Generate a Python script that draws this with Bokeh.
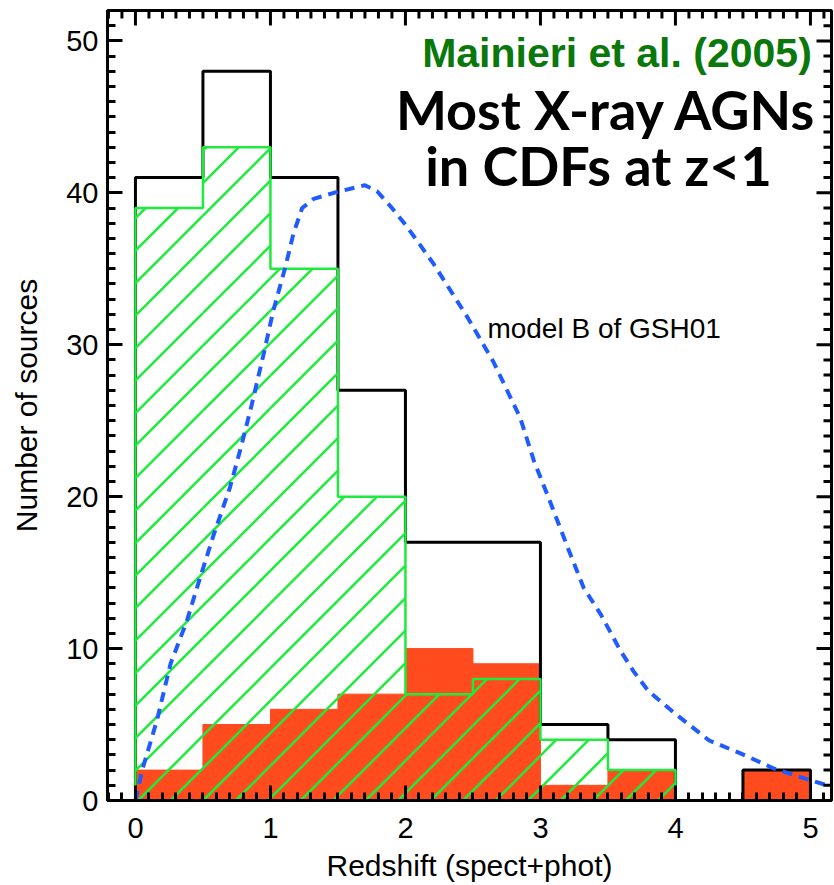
from bokeh.plotting import figure
from bokeh.models import LinearAxis, FixedTicker, Label, Range1d
from bokeh.embed import file_html
from bokeh.resources import INLINE
import numpy as np

# ---------------- data ----------------
bin_edges = [0.0, 0.5, 1.0, 1.5, 2.0, 2.5, 3.0, 3.5, 4.0, 4.5, 5.0]
total_counts = [41, 48, 41, 27, 17, 17, 5, 4, 0, 2]          # black outline
green_counts = [39, 43, 35, 20, 7, 8, 4, 2, 0, 0]           # green hatched
red_counts = [2, 5, 6, 7, 10, 9, 1, 2, 0, 2]                # red filled

model_z = [0.0, 0.05, 0.16, 0.26, 0.38, 0.48, 0.58, 0.70, 0.78, 0.86, 0.95,
           1.02, 1.11, 1.17, 1.235, 1.32, 1.47, 1.70, 1.79, 1.90, 2.0, 2.09,
           2.21, 2.46, 2.65, 2.85, 2.95, 3.07, 3.20, 3.32, 3.45, 3.59, 3.69,
           3.80, 4.0, 4.25, 4.49, 4.73, 5.01, 5.2]
model_n = [0.0, 2.0, 5.3, 9.0, 11.8, 14.7, 17.5, 20.6, 23.2, 26.0, 29.4,
           32.2, 35.1, 37.3, 39.0, 39.6, 40.0, 40.5, 40.1, 39.0, 37.9, 36.8,
           35.3, 31.8, 28.9, 25.2, 22.4, 19.7, 16.7, 14.0, 12.2, 9.9, 8.5,
           7.2, 5.7, 3.95, 3.07, 2.1, 1.3, 0.8]

x_start, x_end = -0.207, 5.156
y_start, y_end = 0.0, 52.0
x_major_ticks = [0, 1, 2, 3, 4, 5]
y_major_ticks = [0, 10, 20, 30, 40, 50]
x_minor_ticks = [float(round(v, 1)) for v in np.arange(-0.2, 5.2, 0.1)]
y_minor_ticks = list(range(0, 52))

x_label = "Redshift (spect+phot)"
y_label = "Number of sources"
ref_text = "Mainieri et al. (2005)"
title_line1 = "Most X-ray AGNs"
title_line2 = "in CDFs at z<1"
model_text = "model B of GSH01"

# ---------------- layout / style ----------------
W, H = 834, 885
BL, BR, BT, BB = 107, 3, 10, 85
FONT = "Liberation Sans"
RED = "#FF4B1E"
GREEN = "#1EEB3C"
BLUE = "#1F5BFF"
HATCH_PX = 32.5          # hatch spacing in screen pixels (45 degree lines)
HATCH_PHASE = 0.02       # where a hatch line meets y=0
MAJOR_LEN, MINOR_LEN = 15, 8

PX_X = (W - BL - BR) / (x_end - x_start)   # pixels per redshift unit
PX_Y = (H - BT - BB) / (y_end - y_start)   # pixels per source


# ---------------- helpers ----------------
def step_outline(edges, counts):
    xs, ys = [edges[0]], [0]
    for i, c in enumerate(counts):
        xs += [edges[i], edges[i + 1]]
        ys += [c, c]
    xs.append(edges[-1])
    ys.append(0)
    return xs, ys


def hatch_segments(edges, counts):
    k = PX_X / PX_Y                      # data slope of a 45 degree screen line
    dx = HATCH_PX / PX_X
    x0s, y0s, x1s, y1s = [], [], [], []
    for i, h in enumerate(counts):
        a, b = edges[i], edges[i + 1]
        if h <= 0:
            continue
        j_lo = int(np.floor((a - h / k - HATCH_PHASE) / dx)) - 1
        j_hi = int(np.ceil((b - HATCH_PHASE) / dx)) + 1
        for j in range(j_lo, j_hi + 1):
            c = HATCH_PHASE + j * dx
            xs = max(a, c)
            xe = min(b, c + h / k)
            if xe - xs > 1e-6:
                x0s.append(xs); y0s.append(k * (xs - c))
                x1s.append(xe); y1s.append(k * (xe - c))
    return x0s, y0s, x1s, y1s


def tick_comb(major, minor):
    """Sorted tick positions with their lengths (major wins on overlap)."""
    lens = {}
    for t in minor:
        lens[round(float(t), 6)] = MINOR_LEN
    for t in major:
        lens[round(float(t), 6)] = MAJOR_LEN
    pos = sorted(lens)
    return pos, [lens[t] for t in pos]


lefts = bin_edges[:-1]
rights = bin_edges[1:]

p = figure(width=W, height=H, output_backend="svg", toolbar_location=None,
           x_range=Range1d(x_start, x_end), y_range=Range1d(y_start, y_end),
           x_axis_location=None, y_axis_location=None,
           min_border_left=BL, min_border_right=BR, min_border_top=BT,
           min_border_bottom=BB)
p.background_fill_color = "white"
p.border_fill_color = "white"
p.grid.visible = False
p.outline_line_color = "black"
p.outline_line_width = 3

xt = FixedTicker(ticks=list(x_major_ticks), minor_ticks=list(x_minor_ticks))
yt = FixedTicker(ticks=list(y_major_ticks), minor_ticks=list(y_minor_ticks))


def style_axis(ax):
    ax.axis_line_color = "black"
    ax.axis_line_width = 3
    ax.major_tick_line_width = 3
    ax.minor_tick_line_width = 3
    ax.major_tick_in = MAJOR_LEN
    ax.major_tick_out = 0
    ax.minor_tick_in = MINOR_LEN
    ax.minor_tick_out = 0
    ax.major_label_text_font = FONT
    ax.major_label_text_font_size = "29px"
    ax.major_label_text_color = "black"
    ax.axis_label_text_font = FONT
    ax.axis_label_text_font_style = "normal"
    ax.axis_label_text_color = "black"


bottom = LinearAxis(ticker=xt, axis_label=x_label)
style_axis(bottom)
bottom.major_label_standoff = 17
bottom.axis_label_text_font_size = "30px"
bottom.axis_label_standoff = 8
p.add_layout(bottom, "below")

left = LinearAxis(ticker=yt, axis_label=y_label)
style_axis(left)
left.major_label_standoff = 9
left.axis_label_text_font_size = "30px"
left.axis_label_standoff = 20
p.add_layout(left, "left")

# red filled histogram
p.quad(left=lefts, right=rights, bottom=0, top=red_counts,
       fill_color=RED, line_color=RED, line_width=1)

# black total outline
bx, by = step_outline(bin_edges, total_counts)
p.line(bx, by, line_color="black", line_width=3)

# green hatched histogram (45 degree hatch lines clipped to each bin)
hx0, hy0, hx1, hy1 = hatch_segments(bin_edges, green_counts)
p.segment(x0=hx0, y0=hy0, x1=hx1, y1=hy1, line_color=GREEN, line_width=2.5)
gx, gy = step_outline(bin_edges, green_counts)
p.line(gx, gy, line_color=GREEN, line_width=2.5)

# model curve
p.line(model_z, model_n, line_color=BLUE, line_width=4, line_dash="10 7")

# inward tick marks on the top and right sides: one comb-shaped line each,
# running along the box edge (under the outline) and dipping in at each tick
tpos, tlen = tick_comb(x_major_ticks, x_minor_ticks)
comb_tx, comb_ty = [x_start], [y_end]
for t, L in zip(tpos, tlen):
    comb_tx += [t, t, t]
    comb_ty += [y_end, y_end - L / PX_Y, y_end]
comb_tx.append(x_end); comb_ty.append(y_end)
p.line(comb_tx, comb_ty, line_color="black", line_width=3)

rpos, rlen = tick_comb(y_major_ticks, y_minor_ticks)
comb_rx, comb_ry = [x_end], [y_start]
for t, L in zip(rpos, rlen):
    comb_rx += [x_end, x_end - L / PX_X, x_end]
    comb_ry += [t, t, t]
comb_rx.append(x_end); comb_ry.append(y_end)
p.line(comb_rx, comb_ry, line_color="black", line_width=3)

# texts
p.add_layout(Label(x=5.01, y=49.2, text=ref_text, text_align="right",
                   text_baseline="middle", text_font=FONT,
                   text_font_style="bold", text_font_size="41px",
                   text_color="#0A780A"))
p.add_layout(Label(x=3.49, y=45.5, text=title_line1, text_align="center",
                   text_baseline="middle", text_font="Lato",
                   text_font_style="bold", text_font_size="54px",
                   text_color="black"))
p.add_layout(Label(x=3.43, y=41.8, text=title_line2, text_align="center",
                   text_baseline="middle", text_font="Lato",
                   text_font_style="bold", text_font_size="54px",
                   text_color="black"))
p.add_layout(Label(x=2.607, y=31.05, text=model_text, text_align="left",
                   text_baseline="middle", text_font=FONT,
                   text_font_size="28px", text_color="black"))

open("out.html", "w").write(file_html(p, INLINE))
